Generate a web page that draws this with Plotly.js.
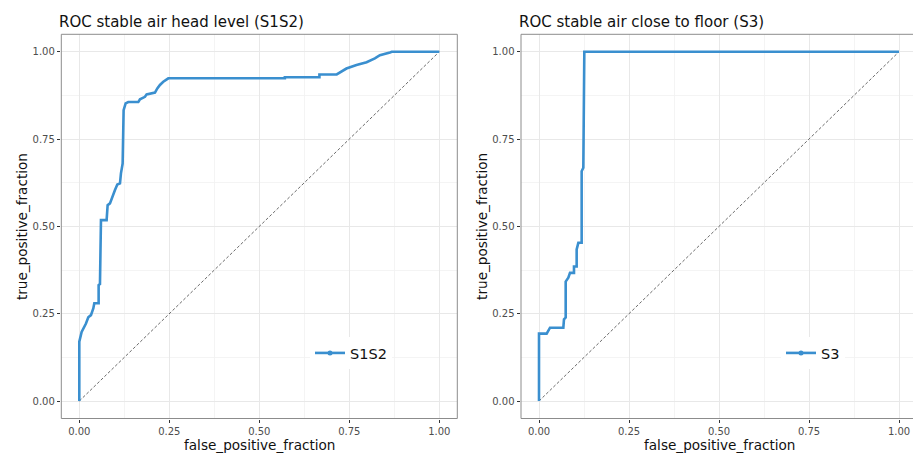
<!DOCTYPE html>
<html>
<head>
<meta charset="utf-8">
<script src="https://cdn.plot.ly/plotly-3.0.1.min.js"></script>
<style>html,body{margin:0;padding:0;background:#fff;}#chart{width:913px;height:454px;}</style>
</head>
<body>
<div id="chart"></div>
<script>
// ---- data ----
var s1s2Fpr = [0, 0, 0.0065, 0.0185, 0.025, 0.0324, 0.0389, 0.0417, 0.0537, 0.0537, 0.0574, 0.0583, 0.0602, 0.0759, 0.0787, 0.0852, 0.0944, 0.0991, 0.1056, 0.113, 0.1157, 0.1204, 0.1231, 0.1287, 0.136, 0.1639, 0.1685, 0.1824, 0.187, 0.2102, 0.2167, 0.224, 0.2333, 0.2426, 0.2472, 0.571, 0.571, 0.667, 0.667, 0.715, 0.724, 0.742, 0.77, 0.798, 0.821, 0.835, 0.863, 0.868, 1];
var s1s2Tpr = [0, 0.170, 0.198, 0.222, 0.240, 0.246, 0.265, 0.280, 0.280, 0.332, 0.335, 0.408, 0.518, 0.518, 0.561, 0.566, 0.594, 0.604, 0.620, 0.623, 0.652, 0.680, 0.833, 0.852, 0.856, 0.856, 0.864, 0.871, 0.878, 0.883, 0.895, 0.905, 0.914, 0.921, 0.924, 0.924, 0.927, 0.927, 0.935, 0.935, 0.940, 0.952, 0.962, 0.970, 0.981, 0.990, 0.998, 1.0, 1.0];

var s3Fpr = [0, 0, 0.0213, 0.0306, 0.0676, 0.0694, 0.0741, 0.0741, 0.0815, 0.0861, 0.0972, 0.0972, 0.1046, 0.1046, 0.1093, 0.1185, 0.1185, 0.1231, 0.1259, 1];
var s3Tpr = [0, 0.193, 0.193, 0.210, 0.210, 0.234, 0.239, 0.342, 0.353, 0.367, 0.367, 0.385, 0.385, 0.434, 0.453, 0.453, 0.658, 0.668, 1.0, 1.0];

var diagX = [0, 1];
var diagY = [0, 1];

var tickVals = [0, 0.25, 0.5, 0.75, 1];
var tickText = ['0.00', '0.25', '0.50', '0.75', '1.00'];

var titleLeft = 'ROC stable air head level (S1S2)';
var titleRight = 'ROC stable air close to floor (S3)';
var xTitle = 'false_positive_fraction';
var yTitle = 'true_positive_fraction';
var nameLeft = 'S1S2';
var nameRight = 'S3';

// ---- styles ----
var FONT = 'DejaVu Sans';
var BLUE = '#3a8fcf';
var W = 913, H = 454;

var traces = [
  {x: diagX, y: diagY, xaxis: 'x', yaxis: 'y', mode: 'lines', showlegend: false, hoverinfo: 'skip',
   line: {color: '#444', width: 0.8, dash: '3px,2px'}},
  {x: s1s2Fpr, y: s1s2Tpr, xaxis: 'x', yaxis: 'y', mode: 'lines', name: nameLeft, showlegend: false,
   line: {color: BLUE, width: 2.6}},
  {x: [null], y: [null], xaxis: 'x', yaxis: 'y', mode: 'lines+markers', name: nameLeft, legend: 'legend',
   line: {color: BLUE, width: 2.6}, marker: {color: BLUE, size: 5}},
  {x: diagX, y: diagY, xaxis: 'x2', yaxis: 'y2', mode: 'lines', showlegend: false, hoverinfo: 'skip',
   line: {color: '#444', width: 0.8, dash: '3px,2px'}},
  {x: s3Fpr, y: s3Tpr, xaxis: 'x2', yaxis: 'y2', mode: 'lines', name: nameRight, showlegend: false,
   line: {color: BLUE, width: 2.6}},
  {x: [null], y: [null], xaxis: 'x2', yaxis: 'y2', mode: 'lines+markers', name: nameRight, legend: 'legend2',
   line: {color: BLUE, width: 2.6}, marker: {color: BLUE, size: 5}}
];

function xAxis(domain, range, anchor) {
  return {
    domain: domain, range: range, anchor: anchor, showline: false, zeroline: false,
    tickmode: 'array', tickvals: tickVals, ticktext: tickText,
    ticks: 'outside', ticklen: 3.5, tickwidth: 1, tickcolor: '#333',
    tickfont: {family: FONT, size: 10, color: '#4d4d4d'},
    showgrid: true, gridcolor: '#e8e8e8', gridwidth: 1,
    minor: {dtick: 0.125, tick0: 0.125, showgrid: true, gridcolor: '#f1f1f1', gridwidth: 0.8, ticks: ''}
  };
}
function yAxis(domain, anchor) {
  return {
    domain: domain, range: [-0.05, 1.05], anchor: anchor, showline: false, zeroline: false,
    tickmode: 'array', tickvals: tickVals, ticktext: tickText,
    ticks: 'outside', ticklen: 3.5, tickwidth: 1, tickcolor: '#333',
    tickfont: {family: FONT, size: 10, color: '#4d4d4d'},
    showgrid: true, gridcolor: '#e8e8e8', gridwidth: 1,
    minor: {dtick: 0.125, tick0: 0.125, showgrid: true, gridcolor: '#f1f1f1', gridwidth: 0.8, ticks: ''}
  };
}

var yDom = [(H - 418.5) / H, (H - 34.3) / H];
var rightEnd = -0.05 + (W - 521) / 360;

function ann(text, x, y, size, opts) {
  var a = {text: text, x: x / W, y: (H - y) / H, xref: 'paper', yref: 'paper', showarrow: false,
    xanchor: 'center', yanchor: 'middle', font: {family: FONT, size: size, color: '#111'}};
  for (var k in (opts || {})) a[k] = opts[k];
  return a;
}

var layout = {
  width: W, height: H, autosize: false,
  margin: {l: 0, r: 0, t: 0, b: 0, pad: 0},
  paper_bgcolor: '#fff', plot_bgcolor: '#fff',
  font: {family: FONT},
  xaxis: xAxis([61.3 / W, 457.3 / W], [-0.05, 1.05], 'y'),
  yaxis: yAxis(yDom, 'x'),
  xaxis2: xAxis([521 / W, 1], [-0.05, rightEnd], 'y2'),
  yaxis2: yAxis(yDom, 'x2'),
  shapes: [
    {type: 'rect', xref: 'x domain', yref: 'y domain', x0: 0, x1: 1, y0: 0, y1: 1,
     line: {color: '#8c8c8c', width: 1}, fillcolor: 'rgba(0,0,0,0)', layer: 'above'},
    {type: 'rect', xref: 'x2 domain', yref: 'y2 domain', x0: 0, x1: 1.1, y0: 0, y1: 1,
     line: {color: '#8c8c8c', width: 1}, fillcolor: 'rgba(0,0,0,0)', layer: 'above'}
  ],
  annotations: [
    ann(titleLeft, 57, 21.7, 15, {xanchor: 'left'}),
    ann(titleRight, 517, 21.7, 15, {xanchor: 'left'}),
    ann(xTitle, 259.3, 445.3, 13.6),
    ann(xTitle, 719, 445.3, 13.6),
    ann(yTitle, 22.7, 226.4, 13.6, {textangle: -90}),
    ann(yTitle, 482.5, 226.4, 13.6, {textangle: -90})
  ],
  legend: {x: 310 / W, y: (H - 353) / H, xanchor: 'left', yanchor: 'middle', bgcolor: '#fff', borderwidth: 0,
    font: {family: FONT, size: 14.5, color: '#111'}, itemwidth: 30},
  legend2: {x: 781 / W, y: (H - 353) / H, xanchor: 'left', yanchor: 'middle', bgcolor: '#fff', borderwidth: 0,
    font: {family: FONT, size: 14.5, color: '#111'}, itemwidth: 30},
  showlegend: true
};

Plotly.newPlot('chart', traces, layout, {staticPlot: true, displayModeBar: false});
</script>
</body>
</html>
